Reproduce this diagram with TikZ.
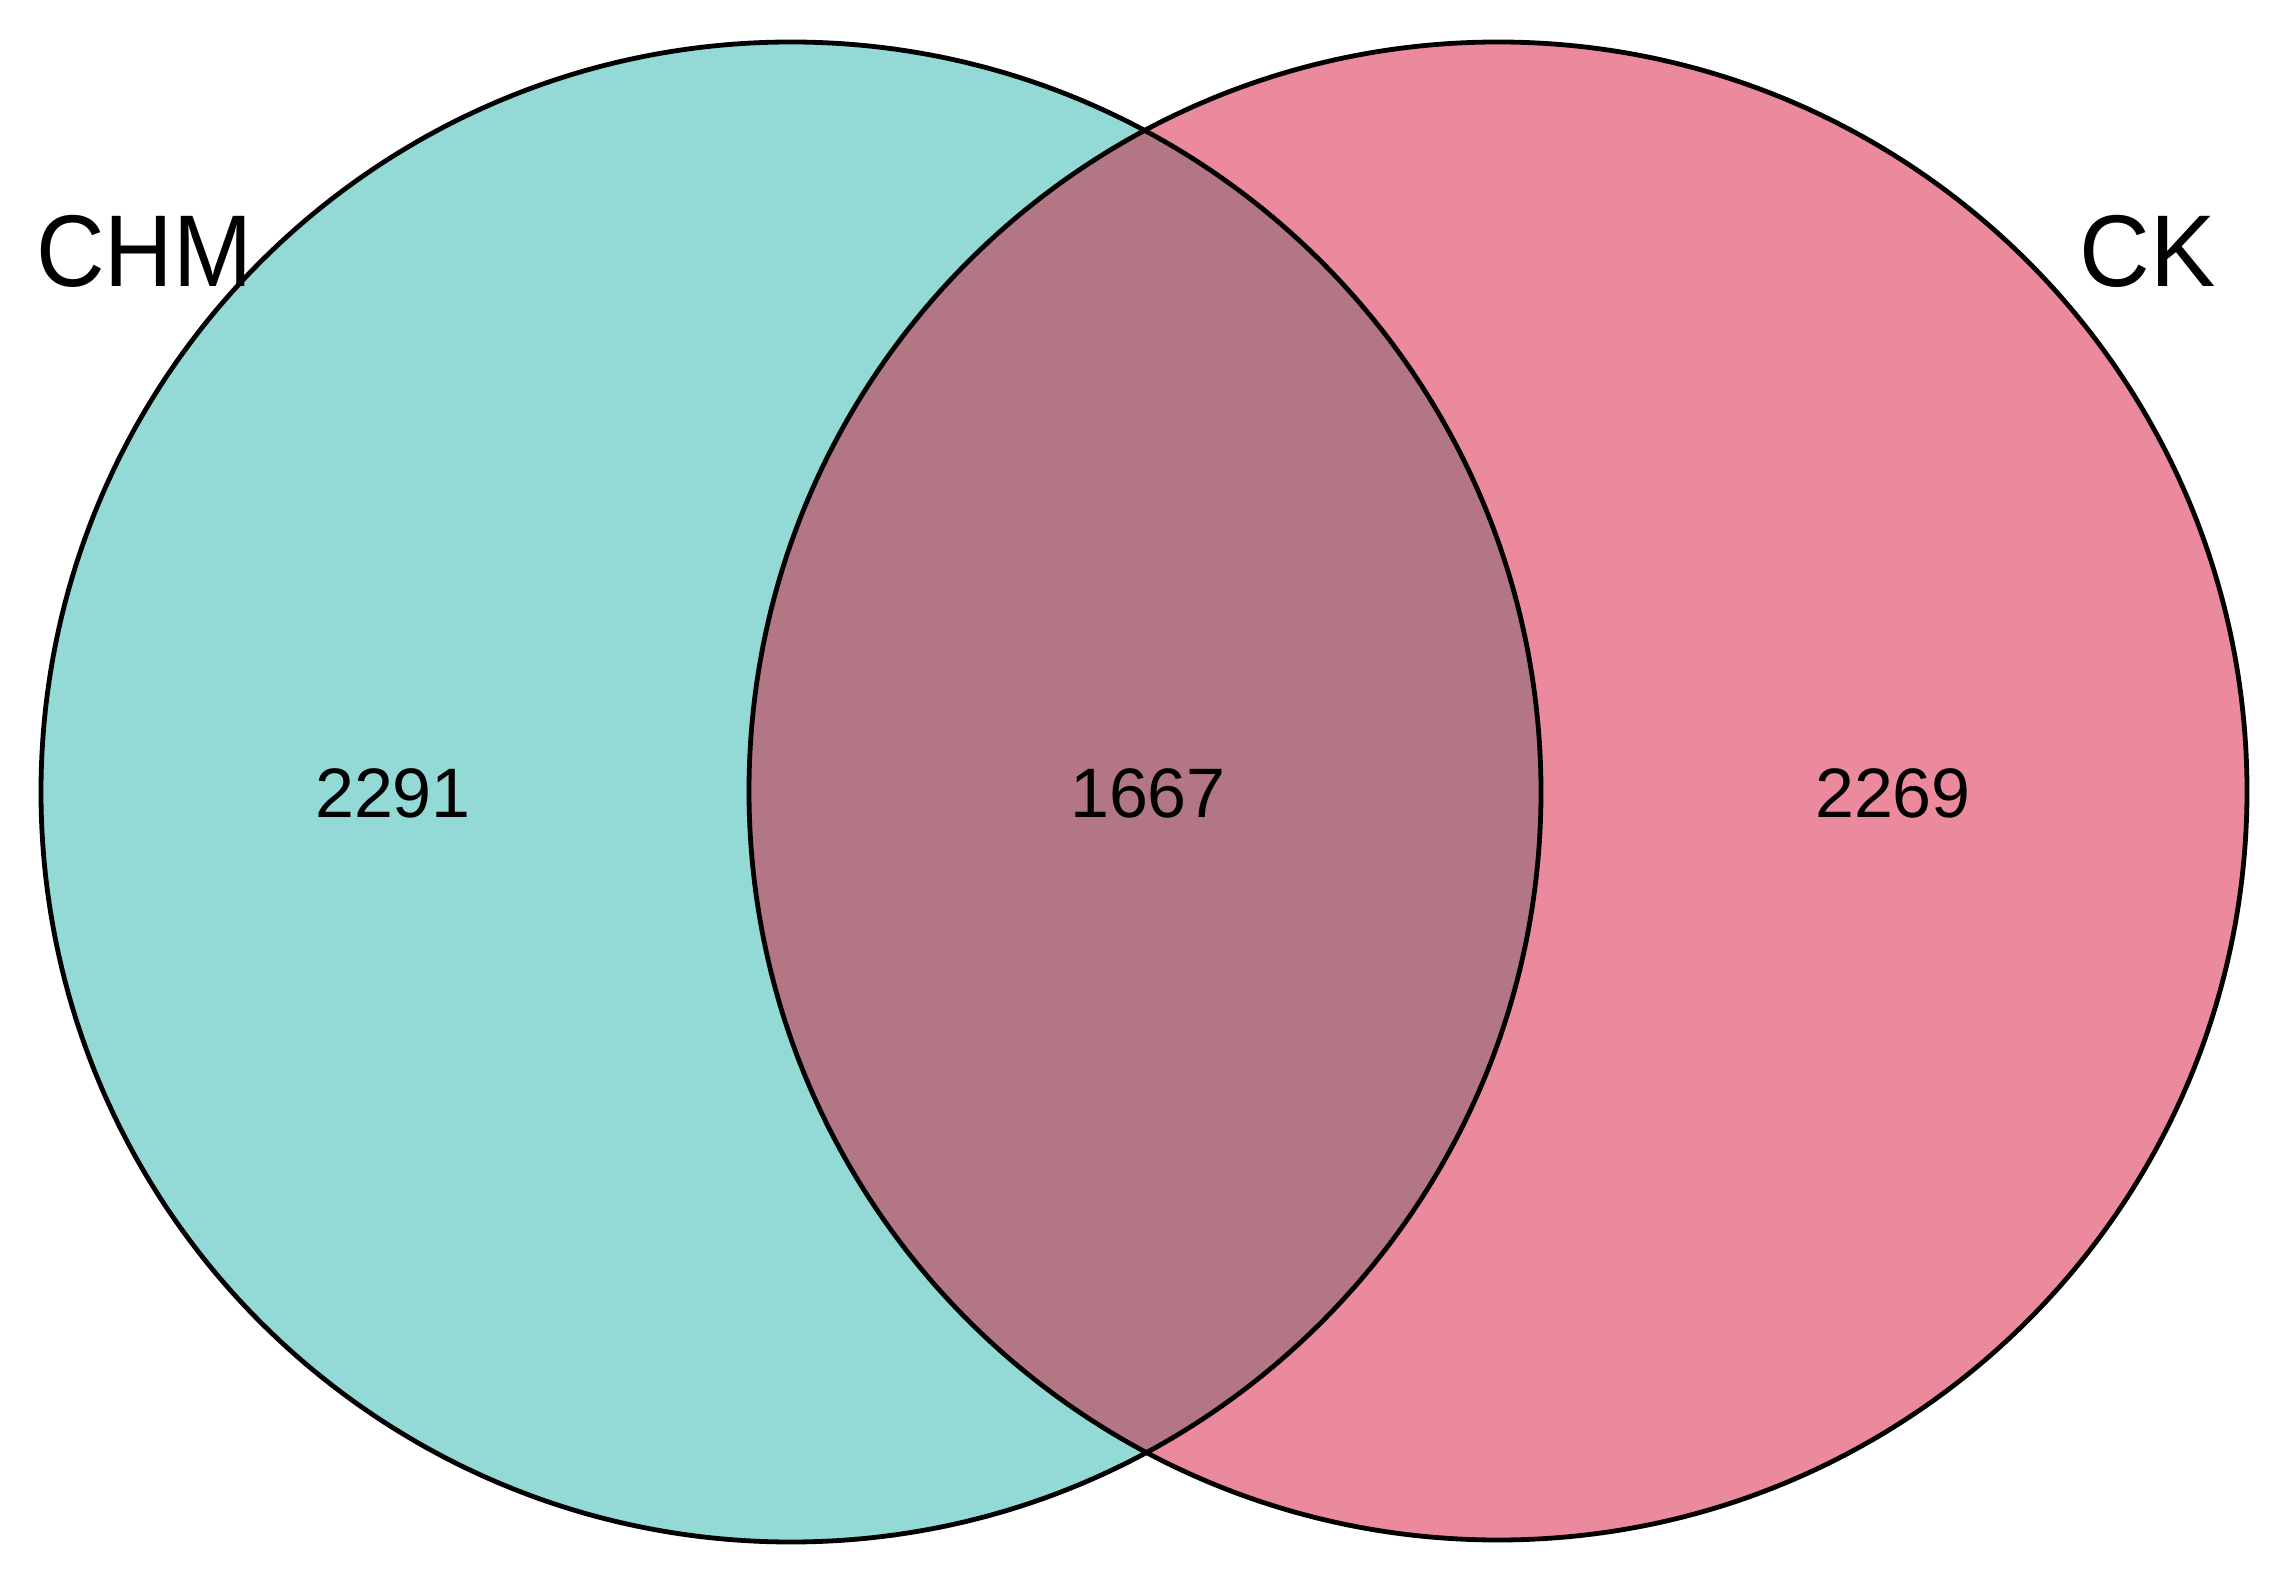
\documentclass[tikz,border=0pt]{standalone}
\usepackage{fontspec}
\usepackage{graphicx}
\setmainfont{Liberation Sans}
\definecolor{teal1}{RGB}{147,217,213}
\definecolor{pink1}{RGB}{236,138,157}
\definecolor{mauve1}{RGB}{179,118,133}
\begin{document}
\begin{tikzpicture}[x=0.5pt,y=-0.5pt,
  outline/.style={draw=black,line width=2.4pt},
  setlabel/.style={font=\fontsize{51}{60}\selectfont,inner sep=0pt},
  countlabel/.style={font=\fontsize{35}{42}\selectfont,inner sep=0pt}]
\useasboundingbox (0,0) rectangle (2288,1582);
\fill[white] (0,0) rectangle (2288,1582);
\coordinate (cl) at (791,792);
\coordinate (cr) at (1498,791);
\fill[teal1] (cl) circle[radius=750];
\fill[pink1] (cr) circle[radius=749];
\begin{scope}
\clip (cl) circle[radius=750];
\fill[mauve1] (cr) circle[radius=749];
\end{scope}
\draw[outline] (cl) circle[radius=750];
\draw[outline] (cr) circle[radius=749];
\node[setlabel,anchor=base west] (chm) at (36,287) {\scalebox{0.93}[1]{CHM}};
\node[setlabel,anchor=base west] (ck) at (2079,287) {\scalebox{0.96}[1]{CK}};
\node[countlabel] (a) at (393,793) {2291};
\node[countlabel] (b) at (1148,793) {1667};
\node[countlabel] (c) at (1893,793) {2269};
\end{tikzpicture}
\end{document}
